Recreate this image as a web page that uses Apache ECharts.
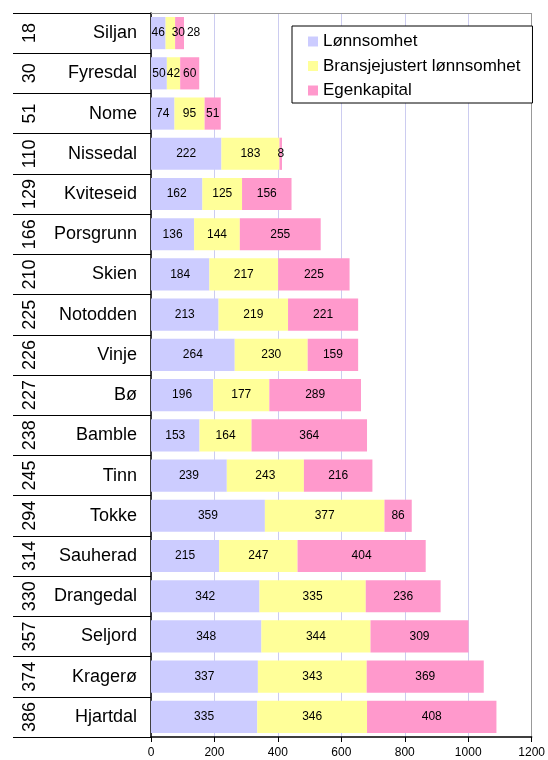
<!DOCTYPE html>
<html>
<head>
<meta charset="utf-8">
<script src="https://cdn.jsdelivr.net/npm/echarts@6/dist/echarts.min.js"></script>
<style>
  html, body { margin: 0; padding: 0; background: #fff; }
  #chart { width: 548px; height: 760px; }
</style>
</head>
<body>
<div id="chart"></div>
<script>
// Municipalities, ranked (top to bottom)
const municipalities = ['Siljan', 'Fyresdal', 'Nome', 'Nissedal', 'Kviteseid', 'Porsgrunn', 'Skien', 'Notodden', 'Vinje', 'Bø', 'Bamble', 'Tinn', 'Tokke', 'Sauherad', 'Drangedal', 'Seljord', 'Kragerø', 'Hjartdal'];
const ranks = ['18', '30', '51', '110', '129', '166', '210', '225', '226', '227', '238', '245', '294', '314', '330', '357', '374', '386'];

const seriesNames = ['Lønnsomhet', 'Bransjejustert lønnsomhet', 'Egenkapital'];
const lonnsomhet = [46, 50, 74, 222, 162, 136, 184, 213, 264, 196, 153, 239, 359, 215, 342, 348, 337, 335];
const bransjejustert = [30, 42, 95, 183, 125, 144, 217, 219, 230, 177, 164, 243, 377, 247, 335, 344, 343, 346];
const egenkapital = [28, 60, 51, 8, 156, 255, 225, 221, 159, 289, 364, 216, 86, 404, 236, 309, 369, 408];

const xTicks = [0, 200, 400, 600, 800, 1000, 1200];

const colors = ['#ccccff', '#ffff99', '#ff99cc'];
const FONT = '"Liberation Sans", Arial, sans-serif';

// Labels on the very narrow first row are nudged right so they don't collide
const labelNudge = { 'Siljan': [0, 8, 14] };

function buildData(values, seriesIdx) {
  return values.map((v, i) => {
    const nudge = labelNudge[municipalities[i]];
    if (nudge && nudge[seriesIdx]) {
      return { value: v, label: { offset: [nudge[seriesIdx], 0] } };
    }
    return v;
  });
}

const allValues = [lonnsomhet, bransjejustert, egenkapital];

const chart = echarts.init(document.getElementById('chart'), null, { renderer: 'canvas' });

chart.setOption({
  animation: false,
  textStyle: { fontFamily: FONT, color: '#000' },
  grid: { left: 151, right: 15, top: 13, bottom: 23, containLabel: false },
  legend: {
    orient: 'vertical',
    left: 292,
    top: 26,
    data: seriesNames,
    icon: 'rect',
    itemWidth: 10,
    itemHeight: 10,
    itemGap: 7.5,
    padding: [7, 12, 4, 16],
    backgroundColor: '#fff',
    borderColor: '#000',
    borderWidth: 1,
    borderRadius: 0,
    textStyle: { fontFamily: FONT, fontSize: 17, color: '#000' }
  },
  xAxis: [
    {
      type: 'value',
      min: xTicks[0],
      max: xTicks[xTicks.length - 1],
      interval: 200,
      axisLine: { show: true, lineStyle: { color: '#000', width: 1.5 } },
      axisTick: { show: true, length: 5, lineStyle: { color: '#000' } },
      axisLabel: {
        fontFamily: FONT, fontSize: 12, color: '#000', margin: 10,
        formatter: (v) => String(v)
      },
      splitLine: {
        show: true,
        lineStyle: { color: ['#ccccee', '#ccccf0', '#ccccf0', '#ccccf0', '#ccccf0', '#ccccf0', '#999999'], width: 1 }
      }
    },
    {
      type: 'value',
      position: 'top',
      min: xTicks[0],
      max: xTicks[xTicks.length - 1],
      axisLine: { show: true, lineStyle: { color: '#999', width: 1 } },
      axisTick: { show: false },
      axisLabel: { show: false },
      splitLine: { show: false }
    }
  ],
  yAxis: [
    {
      type: 'category',
      data: municipalities,
      inverse: true,
      position: 'left',
      axisLine: { show: true, lineStyle: { color: '#000', width: 1.5 } },
      axisTick: { show: true, length: 138, lineStyle: { color: '#000', width: 1 } },
      axisLabel: { interval: 0, fontFamily: FONT, fontSize: 18, color: '#000', margin: 14 }
    },
    {
      type: 'category',
      data: ranks,
      inverse: true,
      position: 'left',
      axisLine: { show: false },
      axisTick: { show: false },
      axisLabel: { interval: 0, rotate: 90, fontFamily: FONT, fontSize: 18, color: '#000', margin: 112 }
    }
  ],
  series: seriesNames.map((name, s) => ({
    name: name,
    type: 'bar',
    stack: 'total',
    xAxisIndex: 0,
    yAxisIndex: 0,
    barCategoryGap: '20%',
    itemStyle: { color: colors[s] },
    label: {
      show: true,
      position: 'inside',
      fontFamily: FONT,
      fontSize: 12,
      color: '#000'
    },
    data: buildData(allValues[s], s)
  }))
});
</script>
</body>
</html>
